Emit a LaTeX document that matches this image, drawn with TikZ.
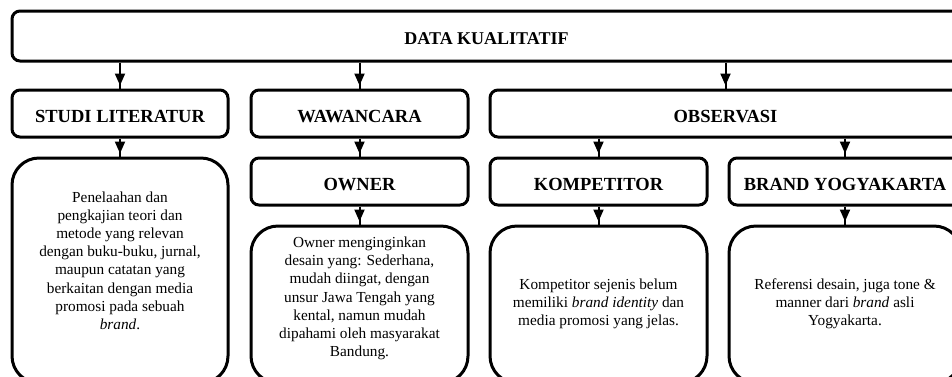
\documentclass[tikz,border=0pt]{standalone}
\usepackage{fontspec}
\setmainfont{Liberation Serif}
\usetikzlibrary{arrows.meta,decorations.markings}
\begin{document}
\begin{tikzpicture}[x=1pt,y=-1pt,
  box/.style={draw, line width=3pt, rectangle, rounded corners=8pt, inner sep=0pt},
  hdr/.style={box, text height=18pt, text depth=0pt, font=\bfseries\fontsize{18.5}{21}\selectfont},
  descbox/.style={draw, line width=3pt, rectangle, rounded corners=27pt, inner sep=0pt},
  desctext/.style={align=center, inner sep=0pt, font=\fontsize{15.3}{18.2}\selectfont},
  conn/.style={line width=2pt, postaction={decorate},
    decoration={markings, mark=at position -3pt with {\arrow{Triangle[width=10pt,length=12pt]}}}}
]
\useasboundingbox (0,0) rectangle (952,376);
\clip (0,0) rectangle (952,376);
\fill[white] (0,0) rectangle (952,376);
% top
\node[hdr, text height=16pt, font=\bfseries\fontsize{18}{21}\selectfont, minimum width=949pt, minimum height=50pt] (data) at (486.5,36) {DATA KUALITATIF};
% row 2
\node[hdr, minimum width=216pt, minimum height=47pt] (studi) at (120,113.5) {STUDI LITERATUR};
\node[hdr, minimum width=217pt, minimum height=47pt] (wawan) at (359.5,113.5) {WAWANCARA};
\node[hdr, minimum width=471pt, minimum height=47pt] (obs) at (725.5,113.5) {OBSERVASI};
% row 3
\node[hdr, minimum width=217pt, minimum height=47pt] (owner) at (359.5,181.5) {OWNER};
\node[hdr, minimum width=217pt, minimum height=47pt] (komp) at (598.5,181.5) {KOMPETITOR};
\node[hdr, minimum width=232pt, minimum height=47pt] (brand) at (845,181.5) {BRAND YOGYAKARTA};
% description boxes
\node[descbox, minimum width=216pt, minimum height=225pt] (studid) at (120,270.5) {};
\node[descbox, minimum width=217pt, minimum height=157pt] (ownerd) at (359.5,304.5) {};
\node[descbox, minimum width=217pt, minimum height=157pt] (kompd) at (598.5,304.5) {};
\node[descbox, minimum width=232pt, minimum height=157pt] (brandd) at (845,304.5) {};
% description texts
\node[desctext] (studit) at (120,260.5)
  {Penelaahan dan\\pengkajian teori dan\\metode yang relevan\\dengan buku-buku, jurnal,\\maupun catatan yang\\berkaitan dengan media\\promosi pada sebuah\\\textit{brand}.};
\node[desctext] (ownert) at (359.5,298.5)
  {Owner menginginkan\\desain yang: Sederhana,\\mudah diingat, dengan\\unsur Jawa Tengah yang\\kental, namun mudah\\dipahami oleh masyarakat\\Bandung.};
\node[desctext] (kompt) at (598.5,304)
  {Kompetitor sejenis belum\\memiliki \textit{brand identity} dan\\media promosi yang jelas.};
\node[desctext] (brandt) at (845,304)
  {Referensi desain, juga tone \&\\manner dari \textit{brand} asli\\Yogyakarta.};
% connectors
\draw[conn] (studi.north |- data.south) -- (studi.north);
\draw[conn] (wawan.north |- data.south) -- (wawan.north);
\draw[conn] (obs.north |- data.south) -- (obs.north);
\draw[conn] (studi.south) -- (studid.north);
\draw[conn] (wawan.south) -- (owner.north);
\draw[conn] (owner.south) -- (ownerd.north);
\draw[conn] (komp.north |- obs.south) -- (komp.north);
\draw[conn] (brand.north |- obs.south) -- (brand.north);
\draw[conn] (komp.south) -- (kompd.north);
\draw[conn] (brand.south) -- (brandd.north);
\end{tikzpicture}
\end{document}
